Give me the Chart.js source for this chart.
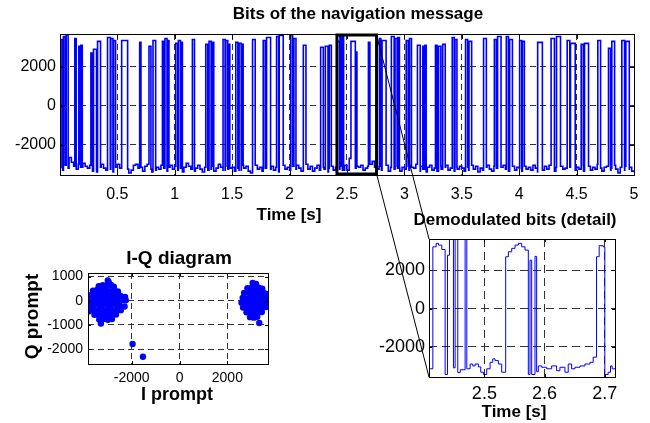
<!DOCTYPE html>
<html>
<head>
<meta charset="utf-8">
<script src="https://cdn.jsdelivr.net/npm/chart.js@4.4.0/dist/chart.umd.min.js"></script>
<style>
  html, body { margin: 0; padding: 0; background: #fff; }
  #wrap { position: relative; width: 650px; height: 423px; }
  #wrap canvas { position: absolute; left: 0; top: 0; }
</style>
</head>
<body>
<div id="wrap">
  <canvas id="bits" width="650" height="423"></canvas>
  <canvas id="iq" width="650" height="423"></canvas>
  <canvas id="detail" width="650" height="423"></canvas>
</div>
<script>
// figure: navigation bits / I-Q / detail

const FONT = "'Liberation Sans', Arial, Helvetica, sans-serif";
Chart.defaults.font.family = FONT;
Chart.defaults.color = '#000';
Chart.defaults.animation = false;

/* tick labels ***********************************************************************/
const bitsXTicks = [0.5, 1, 1.5, 2, 2.5, 3, 3.5, 4, 4.5, 5];
const bitsYTicks = [-2000, 0, 2000];
const detailXTicks = [2.5, 2.6, 2.7];
const detailYTicks = [-2000, 0, 2000];
const iqXTicks = [-2000, 0, 2000];
const iqYTicks = [-2000, -1000, 0, 1000];

/* navigation bits (top) ************************************************************/
// low level, one value every 20 ms
const lowStep = 0.02;
const lowLvl = [
  -3150,-3300,-3050,-3200,-2650,-2900,-3100,-3250,-3000,-3150,-2950,-3100,-3200,-3050,-3350,-3250,-3400,-3150,-3000,-3200,-3300,-3100,-3250,-3400,-3150,
  -3000,-3200,-3350,-3100,-3250,-3450,-3300,-3050,-3000,-3200,-3150,-3350,-3100,-3000,-3250,-3400,-3300,-3150,-3250,-3050,-3200,-3350,-3150,-3050,-3250,
  -3100,-3300,-3200,-3400,-3150,-2950,-3100,-3250,-3350,-3200,-3050,-3250,-3400,-3150,-3300,-3250,-3100,-3350,-3200,-3000,-3150,-3300,-3100,-3250,-3200,
  -3150,-3350,-3200,-3300,-3050,-3200,-3100,-3350,-3450,-3200,-3050,-3250,-3150,-3350,-3200,-3000,-3250,-3100,-3300,-3150,-3400,-3200,-3050,-3250,-3150,
  -3300,-3100,-3250,-3050,-3200,-3350,-3150,-3000,-3250,-3100,-3350,-3200,-3050,-3300,-3150,-3250,-3400,-3200,-3100,-3300,-3150,-3250,-3100,-3300,-3050,
  -3300,-2700,-3000,-3200,-3100,-3150,-3050,-3300,-3200,-3100,-3000,-2850,-3150,-3250,-3100,-3300,-3200,-3050,-3350,-3150,-3250,-3100,-3200,-3350,-3150,
  -3250,-3100,-3300,-3150,-3200,-3000,-3350,-3100,-3250,-3400,-3150,-3050,-3300,-3200,-3350,-3100,-3250,-3150,-3050,-3300,-3200,-3350,-3150,-3250,-3100,
  -3200,-3350,-3150,-3300,-3050,-3250,-3100,-3400,-3200,-3300,-3150,-3050,-3250,-3350,-3100,-3200,-3300,-3150,-3050,-3250,-3350,-3200,-3100,-3300,-3150,
  -3200,-3350,-3100,-3250,-3150,-3300,-3050,-3200,-3400,-3150,-3300,-3100,-3250,-3050,-3200,-3350,-3150,-3300,-3100,-3250,-3200,-3400,-3150,-3050,-3300,
  -3150,-3250,-3050,-3350,-3200,-3100,-3300,-3150,-3250,-3000,-3200,-3350,-3150,-3100,-3300,-3200,-3050,-3250,-3450,-3150,-3300,-3100,-3250,-3150,-3350
];
// high pulses: start [s], end [s], level
const hiOn = [
  0.008,0.031,0.055,0.130,0.165,0.182,0.270,0.293,0.328,0.415,0.444,0.468,0.538,0.695,0.776,0.811,
  0.893,0.915,0.939,1.009,1.032,1.055,1.154,1.271,1.299,1.329,1.421,1.445,1.469,1.532,1.561,1.585,1.678,
  1.771,1.800,1.887,1.910,2.010,2.038,2.120,2.271,2.312,2.346,
  2.414,2.439,2.451,2.468,2.535,2.576,2.584,2.687,
  2.783,2.806,2.887,2.919,2.943,3.016,3.045,3.114,3.161,3.179,3.271,3.298,3.334,
  3.417,3.441,3.533,3.563,3.690,3.784,3.812,3.888,3.917,4.004,4.028,4.161,
  4.278,4.325,4.418,4.447,4.540,4.569,4.685,4.778,4.807,4.894,4.929
];
const hiOff = [
  0.023,0.046,0.072,0.142,0.177,0.195,0.284,0.319,0.354,0.439,0.462,0.485,0.590,0.706,0.793,0.834,
  0.904,0.933,0.950,1.026,1.050,1.067,1.172,1.288,1.317,1.340,1.439,1.462,1.480,1.550,1.579,1.596,1.701,
  1.788,1.835,1.905,1.945,2.027,2.056,2.143,2.294,2.335,2.364,
  2.435,2.449,2.456,2.471,2.573,2.579,2.587,2.700,
  2.795,2.841,2.911,2.937,2.957,3.033,3.062,3.138,3.173,3.190,3.284,3.318,3.356,
  3.434,3.458,3.551,3.586,3.714,3.801,3.842,3.906,3.941,4.022,4.045,4.202,
  4.307,4.360,4.441,4.488,4.558,4.604,4.709,4.796,4.831,4.918,4.959
];
const hiLvl = [
  3400,3550,3650,3450,3050,3100,2700,2900,3300,3500,3450,3350,3350,3250,3050,3350,
  3300,3450,3350,3200,3350,3250,3400,3150,3300,3250,3400,3350,3150,3250,3200,3150,3400,
  3350,3500,3550,3600,3650,3450,3100,3000,3050,3100,
  3300,3650,3650,3650,3300,2550,2750,3250,
  3450,3350,3550,3450,3500,3350,3450,3100,3050,3100,3100,3050,3150,
  3500,3400,3400,3300,3450,3400,3550,3550,3400,3350,3300,3250,
  3450,3550,3350,3200,3150,3200,3350,2950,3300,3350,3300
];

// zoom window drawn on the top plot [s]
const zoomWin = [2.413, 2.758];

/* demodulated bits detail (sample & hold) ******************************************/
const detT = [
  2.408,2.4144,2.4199,2.4238,2.4293,2.4348,2.4387,2.4420,2.4486,2.4514,2.4558,2.4600,2.4680,2.4708,2.4763,
  2.4807,2.4846,2.4901,2.4940,2.4984,2.5039,2.5095,2.5139,2.5177,2.5233,2.5288,2.5354,2.5399,2.5454,2.5509,
  2.5564,2.5620,2.5675,2.5730,2.5758,2.5786,2.5841,2.5868,2.5896,2.5952,2.6034,2.6117,2.6200,2.6255,2.6338,
  2.6393,2.6449,2.6504,2.6587,2.6670,2.6753,2.6808,2.6863,2.6907,2.6973,2.7001,2.7056,2.7095,2.7123,2.717
];
const detV = [
  -3150,3240,3420,3330,3100,-3450,2800,3650,-3100,3650,-3350,-3200,3650,-3150,-2900,
  -3000,-2900,-3050,-3330,-3450,-3150,-2810,-2630,-2720,-2900,-3330,2720,2980,3160,3330,
  3420,3240,3070,-3450,2540,-3450,2740,-3300,-3000,-3070,-3150,-3000,-3250,-3070,-3330,
  -2900,-3150,-3070,-3000,-2900,-2810,-2540,2720,3300,3240,-3450,-3330,-3000,-3150,-3150
];

/* I-Q prompt [I, Q] *****************************************************************/
const iqLeft = [
  [-3000,840],[-2960,760],
  [-3380,600],[-3210,640],[-3040,620],[-2870,650],[-2750,580],
  [-3620,420],[-3450,450],[-3280,410],[-3100,440],[-2920,400],[-2740,430],[-2580,390],
  [-3720,230],[-3550,200],[-3380,240],[-3200,210],[-3020,230],[-2840,200],[-2660,240],[-2480,210],[-2280,160],
  [-3790,30],[-3620,0],[-3450,40],[-3270,10],[-3090,30],[-2910,-10],[-2730,20],[-2550,0],[-2380,30],[-2250,20],
  [-3760,-170],[-3590,-200],[-3410,-160],[-3230,-190],[-3050,-170],[-2870,-200],[-2690,-160],[-2510,-190],[-2300,-240],
  [-3690,-380],[-3520,-400],[-3340,-370],[-3160,-410],[-2980,-380],[-2800,-400],[-2620,-370],[-2460,-390],
  [-3560,-580],[-3380,-600],[-3200,-570],[-3020,-610],[-2840,-590],[-2660,-570],
  [-3360,-780],[-3180,-760],[-3000,-790],[-2830,-760],
  [-3290,-940],[-3810,-440]
];
const iqRight = [
  [3060,740],[3200,700],
  [2840,520],[3000,540],[3160,510],[3320,540],[3460,500],
  [2700,320],[2860,340],[3020,310],[3180,330],[3340,300],[3500,330],[3620,290],
  [2640,120],[2800,100],[2960,130],[3120,110],[3280,130],[3440,100],[3600,120],[3730,90],
  [2590,-80],[2750,-60],[2910,-90],[3070,-70],[3230,-100],[3390,-60],[3550,-90],[3710,-70],[3810,-30],
  [2660,-280],[2820,-300],[2980,-270],[3140,-300],[3300,-280],[3460,-300],[3620,-260],
  [2800,-480],[2960,-500],[3120,-470],[3280,-500],[3440,-470],
  [2950,-680],[3110,-700],[3250,-660],
  [3335,-920]
];
const iqStray = [[-1966,-1792],[-1531,-2320]];

/* helpers ***************************************************************************/
function buildBits() {
  const pts = [];
  lowLvl.forEach((v, k) => {
    const t = k * lowStep;
    const inPulse = hiOn.some((on, j) => t >= on && t < hiOff[j]);
    if (!inPulse) pts.push({ x: t, y: v });
  });
  hiOn.forEach((on, j) => {
    pts.push({ x: on, y: hiLvl[j] });
    const k = Math.min(lowLvl.length - 1, Math.floor(hiOff[j] / lowStep));
    pts.push({ x: hiOff[j], y: lowLvl[k] });
  });
  pts.push({ x: 5, y: lowLvl[lowLvl.length - 1] });
  return pts.sort((a, b) => a.x - b.x);
}

const tickList = arr => s => { s.ticks = arr.map(v => ({ value: v })); };
const fixW = w => s => { s.width = w; };
const fixH = h => s => { s.height = h; };

function axis(min, max, ticks, size, pad, fit, dash) {
  return {
    type: 'linear',
    min: min,
    max: max,
    afterBuildTicks: tickList(ticks),
    afterFit: fit,
    grid: { color: '#333', lineWidth: 1, drawTicks: false },
    border: { display: false, dash: dash },
    ticks: { font: { size: size }, padding: pad, autoSkip: false, maxRotation: 0, callback: v => String(v) }
  };
}

// box + inner tick marks + titles
function makeFrame(id, tickLen, texts) {
  return {
    id: id,
    afterDraw(chart) {
      const ctx = chart.ctx, a = chart.chartArea;
      const xs = chart.scales.x, ys = chart.scales.y;
      ctx.save();
      ctx.strokeStyle = '#000';
      ctx.lineWidth = 1;
      ctx.beginPath();
      xs.ticks.forEach(t => {
        const px = Math.round(xs.getPixelForValue(t.value)) + 0.5;
        ctx.moveTo(px, a.bottom); ctx.lineTo(px, a.bottom - tickLen);
        ctx.moveTo(px, a.top); ctx.lineTo(px, a.top + tickLen);
      });
      ys.ticks.forEach(t => {
        const py = Math.round(ys.getPixelForValue(t.value)) + 0.5;
        ctx.moveTo(a.left, py); ctx.lineTo(a.left + tickLen, py);
        ctx.moveTo(a.right, py); ctx.lineTo(a.right - tickLen, py);
      });
      ctx.stroke();
      ctx.strokeRect(a.left + 0.5, a.top + 0.5, a.right - a.left, a.bottom - a.top);

      ctx.fillStyle = '#000';
      ctx.textAlign = 'center';
      ctx.textBaseline = 'middle';
      texts.forEach(t => {
        ctx.font = 'bold ' + t.size + 'px ' + FONT;
        const cy = t.from === 'top' ? a.top + t.dy
                 : t.from === 'bottom' ? a.bottom + t.dy
                 : (a.top + a.bottom) / 2 + t.dy;
        if (t.rot) {
          ctx.save();
          ctx.translate(a.left + t.dx, cy);
          ctx.rotate(-Math.PI / 2);
          ctx.fillText(t.text, 0, 0);
          ctx.restore();
        } else {
          ctx.fillText(t.text, (a.left + a.right) / 2 + t.dx, cy);
        }
      });
      ctx.restore();
    }
  };
}

const noPlugins = { legend: { display: false }, tooltip: { enabled: false }, title: { display: false } };

/* top: bits of the navigation message ***********************************************/
const bitsChart = new Chart(document.getElementById('bits'), {
  type: 'line',
  data: {
    datasets: [{
      data: buildBits(),
      borderColor: '#0000ff',
      borderWidth: 1.6,
      pointRadius: 0,
      stepped: true
    }]
  },
  options: {
    responsive: false,
    maintainAspectRatio: false,
    layout: { padding: { left: 10, top: 34, right: 16, bottom: 218 } },
    scales: {
      x: axis(0.001, 5, bitsXTicks, 16, 10, fixH(30), [6, 4]),
      y: axis(-3550, 3680, bitsYTicks, 16, 4, fixW(50), [6, 4])
    },
    plugins: noPlugins
  },
  plugins: [makeFrame('frameBits', 5, [
    { text: 'Bits of the navigation message', size: 17, from: 'top', dy: -20, dx: 11 },
    { text: 'Time [s]', size: 17, from: 'bottom', dy: 40, dx: -58 }
  ])]
});

/* bottom left: I-Q diagram **********************************************************/
const toXY = arr => arr.map(p => ({ x: p[0], y: p[1] }));
const iqChart = new Chart(document.getElementById('iq'), {
  type: 'scatter',
  data: {
    datasets: [{
      data: toXY(iqLeft).concat(toXY(iqRight), toXY(iqStray)),
      pointRadius: 3.2,
      pointBorderWidth: 0,
      pointBackgroundColor: '#0000ff',
      showLine: false
    }]
  },
  options: {
    responsive: false,
    maintainAspectRatio: false,
    layout: { padding: { left: 38, top: 273, right: 382, bottom: 34 } },
    scales: {
      x: axis(-3830, 3700, iqXTicks, 14, 6, fixH(25), [6, 4]),
      y: axis(-2620, 1150, iqYTicks, 14, 5, fixW(50), [6, 4])
    },
    plugins: noPlugins
  },
  plugins: [makeFrame('frameIQ', 3, [
    { text: 'I-Q diagram', size: 19, from: 'top', dy: -14, dx: 1 },
    { text: 'I prompt', size: 18, from: 'bottom', dy: 31, dx: -1 },
    { text: 'Q prompt', size: 19, from: 'mid', dy: -2, dx: -55, rot: true }
  ])]
});

/* zoom box + connecting lines ******************************************************/
const zoomLink = {
  id: 'zoomLink',
  afterDraw(chart) {
    const ctx = chart.ctx, d = chart.chartArea;
    const xs = bitsChart.scales.x, t = bitsChart.chartArea;
    const x0 = xs.getPixelForValue(zoomWin[0]);
    const x1 = xs.getPixelForValue(zoomWin[1]);
    const y0 = t.top + 1, y1 = t.bottom - 1;
    ctx.save();
    ctx.strokeStyle = '#000';
    ctx.lineWidth = 3;
    ctx.strokeRect(x0, y0, x1 - x0, y1 - y0);
    ctx.lineWidth = 1;
    ctx.beginPath();
    ctx.moveTo(x1, y0); ctx.lineTo(d.left, d.top);
    ctx.moveTo(x1, y1); ctx.lineTo(d.left, d.bottom);
    ctx.stroke();
    ctx.restore();
  }
};

/* bottom right: demodulated bits (detail) *******************************************/
new Chart(document.getElementById('detail'), {
  type: 'line',
  data: {
    datasets: [{
      data: detT.map((t, i) => ({ x: t, y: detV[i] })),
      borderColor: '#0000ff',
      borderWidth: 1,
      pointRadius: 0,
      stepped: true
    }]
  },
  options: {
    responsive: false,
    maintainAspectRatio: false,
    layout: { padding: { left: 369, top: 239, right: 35, bottom: 16 } },
    scales: {
      x: axis(2.408, 2.717, detailXTicks, 18, 6, fixH(30), [8, 5]),
      y: axis(-3580, 3650, detailYTicks, 18, 4, fixW(60), [8, 5])
    },
    plugins: noPlugins
  },
  plugins: [makeFrame('frameDetail', 3, [
    { text: 'Demodulated bits (detail)', size: 17, from: 'top', dy: -19, dx: -7 },
    { text: 'Time [s]', size: 17, from: 'bottom', dy: 35, dx: -8 }
  ]), zoomLink]
});
</script>
</body>
</html>
